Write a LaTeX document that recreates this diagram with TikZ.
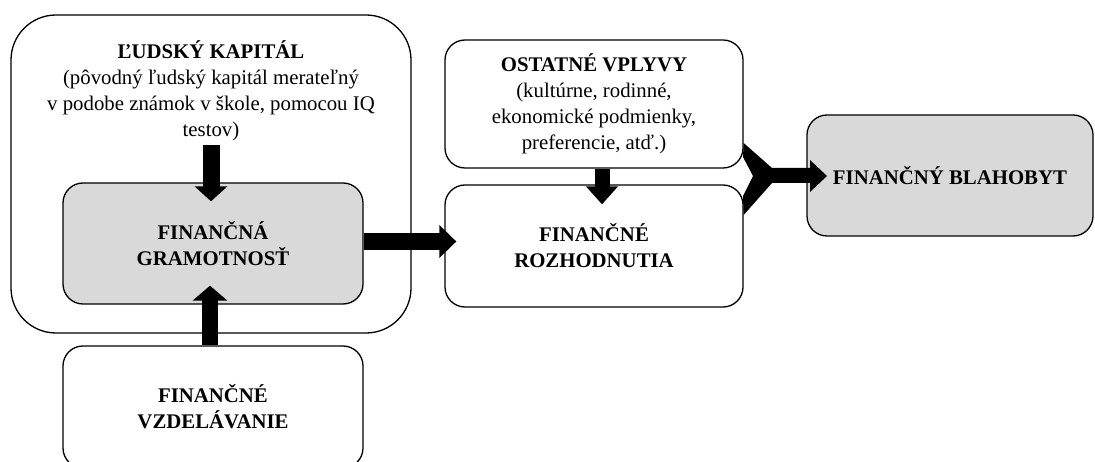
\documentclass[tikz,border=0pt]{standalone}
\usepackage{fontspec}
\setmainfont{Liberation Serif}
\usetikzlibrary{arrows.meta,calc}
\definecolor{boxgray}{HTML}{D9D9D9}
\begin{document}
\begin{tikzpicture}[x=1pt,y=-1pt,
  txt/.style={font=\fontsize{20.8}{26}\selectfont,align=center},
  box/.style={draw,line width=1.3pt,rounded corners=20pt,fill=white,inner sep=0pt,
    align=center,font=\fontsize{20.8}{26}\selectfont\bfseries},
  graybox/.style={box,fill=boxgray},
  arrowline/.style={line width=#1,draw=black}
]
\path[use as bounding box] (0,0) rectangle (1095,462);
\clip (0,0) rectangle (1095,462);

% boxes
\node[box,rounded corners=45pt,minimum width=400pt,minimum height=318pt] (lk) at (211,174) {};
\node[txt] (kap) at (211,91) {\textbf{ĽUDSKÝ KAPITÁL}\\(pôvodný ľudský kapitál merateľný\\v podobe známok v škole, pomocou IQ\\testov)};
\node[graybox,minimum width=300pt,minimum height=121pt] (gram) at (213,243.5) {FINANČNÁ\\GRAMOTNOSŤ};
\node[box,minimum width=300pt,minimum height=122pt] (vzd) at (213,407) {FINANČNÉ\\VZDELÁVANIE};
\node[box,minimum width=298pt,minimum height=128pt] (ost) at (594,104) {OSTATNÉ VPLYVY\\\mdseries(kultúrne, rodinné,\\\mdseries ekonomické podmienky,\\\mdseries preferencie, atď.)};
\node[box,minimum width=298pt,minimum height=122pt] (rozh) at (594,246) {FINANČNÉ\\ROZHODNUTIA};
\node[graybox,minimum width=286pt,minimum height=121pt] (blah) at (950,175.5) {FINANČNÝ BLAHOBYT};

% arrows
\draw[arrowline=17pt,-{Triangle[length=15pt,width=32pt]}]
  ([xshift=-2pt]gram.north |- kap.south) -- ([xshift=-2pt,yshift=-19pt]gram.north);
\draw[arrowline=16pt,-{Triangle[length=15pt,width=34pt]}]
  ([xshift=-3pt]vzd.north) -- ([xshift=-3pt,yshift=19pt]gram.south);
\draw[arrowline=17pt,-{Triangle[length=17pt,width=32pt]}]
  ([yshift=2pt]gram.east) -- ([xshift=12pt,yshift=2pt]rozh.west |- gram.east);
\draw[arrowline=15pt,-{Triangle[length=18pt,width=31pt]}]
  ([xshift=8pt]ost.south) -- ([xshift=8pt,yshift=-20pt]rozh.north);

% merging arrow into the final box
\fill[black] (ost.south east |- 0,143) -- (772,168) -- (810,168) -- (810,160) -- (827,176)
  -- (810,192) -- (810,183) -- (772,183) -- (rozh.north east |- 0,215) -- (743,196)
  -- (753,176) -- (743,157) -- cycle;
\end{tikzpicture}
\end{document}
